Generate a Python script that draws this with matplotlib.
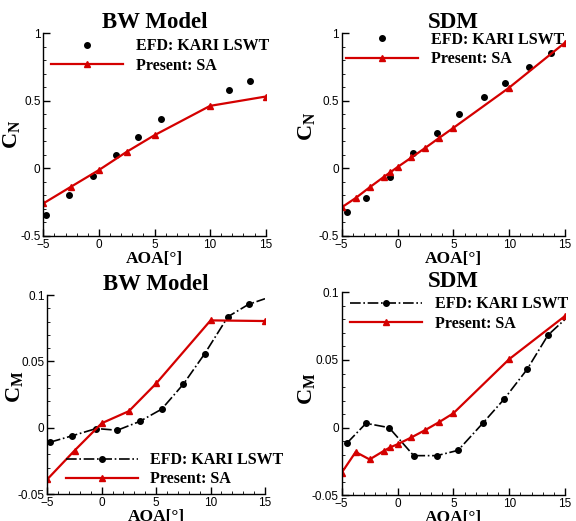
import numpy as np
import matplotlib
matplotlib.use("Agg")
import matplotlib.pyplot as plt
from matplotlib.ticker import MultipleLocator, AutoMinorLocator

# CN, BW model
bw_cn_efd_a = [-4.76, -2.69, -0.5, 1.5, 3.52, 5.55, 11.73, 13.62]
bw_cn_efd = [-0.345, -0.197, -0.054, 0.099, 0.232, 0.369, 0.579, 0.648]
bw_cn_sa_a = [-5, -2.5, 0, 2.5, 5, 10, 15]
bw_cn_sa = [-0.259, -0.135, -0.012, 0.123, 0.246, 0.463, 0.532]

# CN, SDM
sdm_cn_efd_a = [-4.49, -2.79, -0.70, 1.42, 3.54, 5.51, 7.72, 9.63, 11.75, 13.75]
sdm_cn_efd = [-0.325, -0.219, -0.066, 0.113, 0.261, 0.404, 0.530, 0.633, 0.749, 0.855]
sdm_cn_sa_a = [-5, -3.75, -2.5, -1.25, -0.67, 0, 1.25, 2.5, 3.75, 5, 10, 15]
sdm_cn_sa = [-0.288, -0.219, -0.140, -0.064, -0.030, 0.010, 0.081, 0.153, 0.227,
             0.300, 0.598, 0.931]

# CM, BW model (last EFD value is the curve end, no symbol)
bw_cm_efd_a = [-4.75, -2.73, -0.5, 1.43, 3.48, 5.51, 7.5, 9.46, 11.6, 13.5, 15.0]
bw_cm_efd = [-0.0108, -0.0060, -0.0005, -0.0018, 0.0048, 0.0141, 0.0329, 0.0558,
             0.0837, 0.0930, 0.0972]
bw_cm_sa_a = [-5, -2.5, 0, 2.5, 5, 10, 15]
bw_cm_sa = [-0.0387, -0.0171, 0.0035, 0.0126, 0.0334, 0.0809, 0.0804]

# CM, SDM (last EFD value is the curve end, no symbol)
sdm_cm_efd_a = [-4.49, -2.82, -0.76, 1.45, 3.51, 5.42, 7.63, 9.54, 11.6, 13.48, 15.0]
sdm_cm_efd = [-0.0111, 0.0032, 0.0, -0.0207, -0.0207, -0.0168, 0.0032, 0.0210,
              0.0430, 0.0684, 0.0800]
sdm_cm_sa_a = [-5, -3.75, -2.5, -1.25, -0.67, 0, 1.25, 2.5, 3.75, 5, 10, 15]
sdm_cm_sa = [-0.0333, -0.0180, -0.0235, -0.0173, -0.0146, -0.0123, -0.0072,
             -0.0017, 0.0042, 0.0106, 0.0506, 0.0825]

red = '#d40000'
serif = 'Liberation Serif'
sans = 'Liberation Sans'

plt.rcParams['mathtext.fontset'] = 'custom'
plt.rcParams['mathtext.rm'] = 'Liberation Serif'
plt.rcParams['mathtext.bf'] = 'Liberation Serif:bold'
plt.rcParams['mathtext.it'] = 'Liberation Serif:italic'

fig = plt.figure(figsize=(5.76, 5.21), dpi=100)
W, H = 576.0, 521.0


def make_ax(x0, x1, ytop, ybot):
    return fig.add_axes([x0 / W, 1 - ybot / H, (x1 - x0) / W, (ybot - ytop) / H])


def style(ax, ylim, ymaj, ylab, title, yfmt, ylab_xy):
    ax.set_xlim(-5, 15)
    ax.set_ylim(*ylim)
    ax.xaxis.set_major_locator(MultipleLocator(5))
    ax.xaxis.set_minor_locator(AutoMinorLocator(5))
    ax.yaxis.set_minor_locator(AutoMinorLocator(5))
    ax.spines['top'].set_visible(False)
    ax.spines['right'].set_visible(False)
    for s in ('left', 'bottom'):
        ax.spines[s].set_linewidth(1.0)
    ax.tick_params(which='major', direction='in', length=5, width=1.0,
                   labelsize=8.5, pad=2)
    ax.tick_params(which='minor', direction='in', length=2.5, width=0.6)
    yt = np.arange(ylim[0], ylim[1] + ymaj / 2, ymaj)
    ax.set_yticks(yt)
    ax.set_yticklabels([yfmt(v) for v in yt])
    for lab in ax.get_xticklabels() + ax.get_yticklabels():
        lab.set_fontfamily(sans)
    ax.set_xlabel('AOA[°]', fontfamily=serif, fontweight='bold', fontsize=12.5,
                  labelpad=0)
    ax.set_ylabel(ylab, fontsize=16)
    ax.yaxis.set_label_coords(*ylab_xy)
    ax.set_title(title, fontfamily=serif, fontweight='bold', fontsize=16.5, pad=3)


def fmt_cn(v):
    v = round(v, 2)
    if v == int(v):
        return '%d' % v
    return '%g' % v


def fmt_cm(v):
    v = round(v, 3)
    if v == 0:
        return '0'
    return '%g' % v


leg_kw = dict(frameon=False, prop={'family': serif, 'weight': 'bold', 'size': 11.5},
              handlelength=4.5, handletextpad=0.8, labelspacing=0.2,
              borderaxespad=0.0, borderpad=0.0)

# top left
ax1 = make_ax(43.3, 265.7, 33.3, 236)
ax1.plot(bw_cn_efd_a, bw_cn_efd, 'o', color='k', ms=4, label='EFD: KARI LSWT')
ax1.plot(bw_cn_sa_a, bw_cn_sa, '-^', color=red, lw=1.6, ms=4, label='Present: SA')
style(ax1, (-0.5, 1.0), 0.5, r'$\mathbf{C_N}$', 'BW Model', fmt_cn, (-0.096, 0.50))
ax1.legend(loc='upper left', bbox_to_anchor=(0.035, 0.975), **leg_kw)

# top right
ax2 = make_ax(341.7, 565, 33.3, 236)
ax2.plot(sdm_cn_efd_a, sdm_cn_efd, 'o', color='k', ms=4, label='EFD: KARI LSWT')
ax2.plot(sdm_cn_sa_a, sdm_cn_sa, '-^', color=red, lw=1.6, ms=4, label='Present: SA')
style(ax2, (-0.5, 1.0), 0.5, r'$\mathbf{C_N}$', 'SDM', fmt_cn, (-0.112, 0.54))
ax2.legend(loc='upper left', bbox_to_anchor=(0.019, 1.006), **leg_kw)

# bottom left
ax3 = make_ax(47.3, 265, 295, 494.3)
n3 = len(bw_cm_efd_a) - 1
ax3.plot(bw_cm_efd_a, bw_cm_efd, '-.', marker='o', color='k', lw=1.2, ms=4,
         markevery=list(range(n3)), label='EFD: KARI LSWT')
ax3.plot(bw_cm_sa_a, bw_cm_sa, '-^', color=red, lw=1.6, ms=4, label='Present: SA')
style(ax3, (-0.05, 0.1), 0.05, r'$\mathbf{C_M}$', 'BW Model', fmt_cm, (-0.102, 0.54))
ax3.legend(loc='lower left', bbox_to_anchor=(0.085, 0.035), **leg_kw)

# bottom right
ax4 = make_ax(341.7, 565, 292.3, 495.3)
n4 = len(sdm_cm_efd_a) - 1
ax4.plot(sdm_cm_efd_a, sdm_cm_efd, '-.', marker='o', color='k', lw=1.2, ms=4,
         markevery=list(range(n4)), label='EFD: KARI LSWT')
ax4.plot(sdm_cm_sa_a, sdm_cm_sa, '-^', color=red, lw=1.6, ms=4, label='Present: SA')
style(ax4, (-0.05, 0.1), 0.05, r'$\mathbf{C_M}$', 'SDM', fmt_cm, (-0.112, 0.524))
ax4.legend(loc='upper left', bbox_to_anchor=(0.037, 0.98), **leg_kw)

fig.savefig('out.png', dpi=100)
